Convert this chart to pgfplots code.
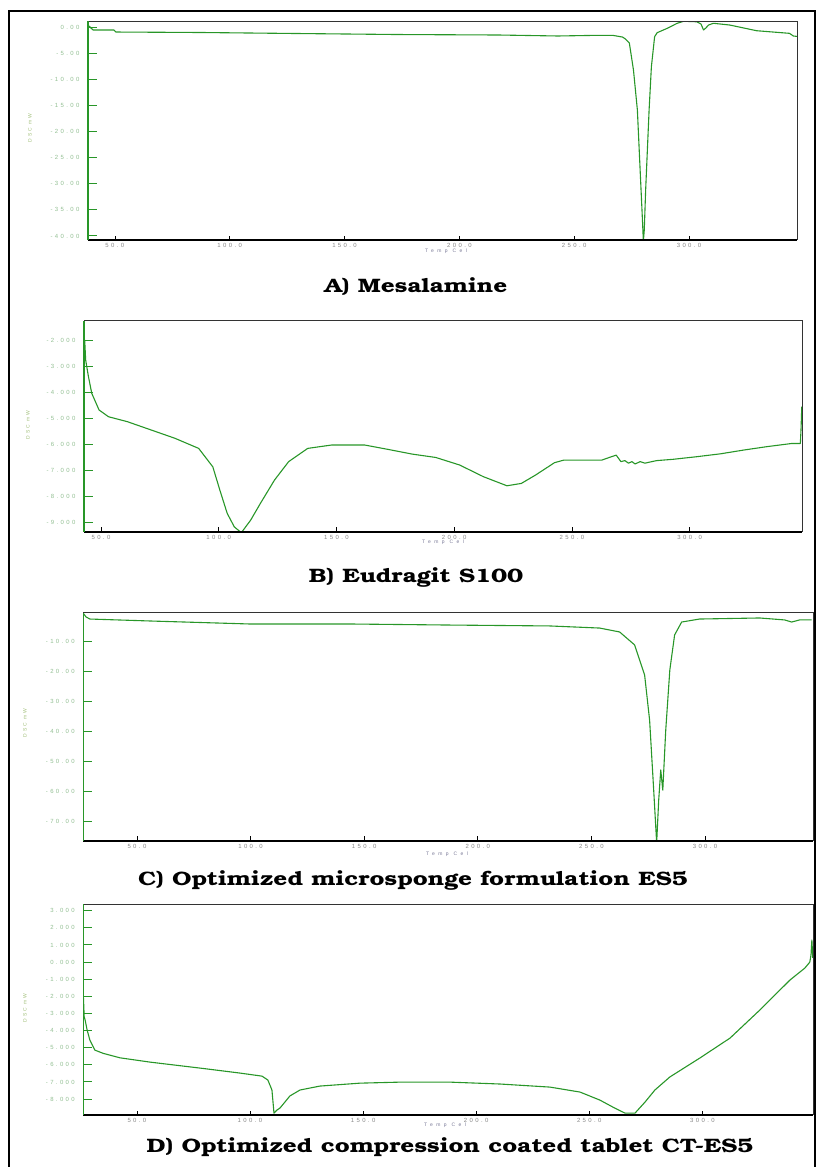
\documentclass[border=0pt]{standalone}
\usepackage{fontspec}
\usepackage{pgfplots}
\pgfplotsset{compat=1.18}
\setmainfont{Liberation Sans}
\newfontfamily\titlefont[FakeStretch=1.25]{texgyrebonum-bold.otf}
\newfontfamily\tickfont[LetterSpace=40]{Liberation Sans}
\newfontfamily\labfont[LetterSpace=70]{Liberation Sans}
\definecolor{curve}{RGB}{40,150,40}
\definecolor{axgreen}{RGB}{40,150,40}
\definecolor{ytl}{RGB}{145,190,145}
\definecolor{xtl}{RGB}{135,135,135}
\definecolor{xlab}{RGB}{120,120,150}
\definecolor{ylab}{RGB}{160,190,120}
\pgfplotsset{dsc/.style={
  scale only axis, anchor=south west,
  axis line style={draw=none}, tick align=inside,
  clip mode=individual,
  xtick={50,100,150,200,250,300},
  xticklabels={50.0,100.0,150.0,200.0,250.0,300.0},
  xtick pos=left, ytick pos=left,
  xtick style={black, line width=0.7bp, /pgfplots/major tick length=4.5bp},
  ytick style={axgreen, line width=1bp, /pgfplots/major tick length=9bp},
  ticklabel style={font=\tickfont\fontsize{6}{7}\selectfont},
  xticklabel style={text=xtl},
  yticklabel style={text=ytl, xshift=-5bp},
}}
\newcommand{\frameit}{%
  \draw[black!80, line width=0.8bp] (rel axis cs:0,1) -- (rel axis cs:1,1) -- (rel axis cs:1,0);
  \draw[black, line width=2.2bp] (rel axis cs:0,0) -- (rel axis cs:1,0);
  \draw[axgreen, line width=1.6bp] (rel axis cs:0,0) -- (rel axis cs:0,1);}
\tikzset{dscline/.style={curve, line width=1.1bp, mark=none, line join=round}}
\begin{document}
\begin{tikzpicture}
\path[use as bounding box] (0,0) rectangle (823bp,-1167bp);
\draw[black, line width=1.5bp] (9bp,-1167bp) -- (9bp,-11bp) -- (815bp,-11bp) -- (815bp,-1167bp);

% ---------- A
\begin{axis}[dsc, at={(88bp,-240bp)}, width=709bp, height=219bp,
  xmin=38.3, xmax=347, ymin=-40.77, ymax=1.15,
  ytick={0,-5,-10,-15,-20,-25,-30,-35,-40},
  yticklabels={0.00,-5.00,-10.00,-15.00,-20.00,-25.00,-30.00,-35.00,-40.00}]
\addplot[dscline] coordinates {(38.8,0.2)(39.6,-0.19)(40.5,-0.57)(49.6,-0.57)(50.4,-0.96)(87.2,-1.05)(130.4,-1.25)(173.7,-1.44)(216.9,-1.53)(242.9,-1.72)(260.2,-1.59)(266.7,-1.59)(271.0,-1.92)(272.3,-2.3)(274.0,-3.07)(275.8,-8.24)(277.5,-15.9)(278.7,-27.4)(279.7,-36.9)(280.1,-41)(280.5,-38.9)(281.1,-31.2)(282.6,-15.9)(283.6,-7.6)(285.0,-1.86)(286.1,-1.09)(290.5,-0.25)(294.8,0.71)(297.7,1.1)(303.4,1.0)(305.2,0.57)(306.3,-0.57)(307.3,-0.19)(308.5,0.38)(310.6,0.71)(317.7,0.38)(329.4,-0.71)(343.7,-1.21)(345.4,-1.72)(347,-1.8)};
\frameit
\end{axis}

% ---------- B
\begin{axis}[dsc, at={(84bp,-531.7bp)}, width=718bp, height=211bp,
  xmin=42.8, xmax=347.7, ymin=-9.36, ymax=-1.23,
  ytick={-2,-3,-4,-5,-6,-7,-8,-9},
  yticklabels={-2.000,-3.000,-4.000,-5.000,-6.000,-7.000,-8.000,-9.000}]
\addplot[dscline] coordinates {(43.1,-1.97)(43.5,-2.74)(44.7,-3.39)(46.1,-4.03)(49.2,-4.67)(53.2,-4.93)(61.2,-5.12)(71.3,-5.44)(81.4,-5.76)(91.5,-6.15)(97.5,-6.86)(100.5,-7.76)(103.6,-8.65)(106.6,-9.17)(109.6,-9.40)(113.6,-8.91)(117.7,-8.27)(123.7,-7.37)(129.7,-6.66)(137.8,-6.15)(147.9,-6.02)(162.0,-6.02)(172.0,-6.19)(182.2,-6.37)(192.2,-6.50)(202.3,-6.79)(212.4,-7.24)(222.4,-7.59)(228.5,-7.50)(234.5,-7.18)(242.6,-6.70)(246.6,-6.60)(262.7,-6.60)(266.8,-6.47)(268.8,-6.41)(270.8,-6.66)(272.5,-6.62)(274.0,-6.72)(275.5,-6.66)(276.8,-6.75)(279.0,-6.66)(281.0,-6.72)(282.9,-6.68)(286.0,-6.62)(293.0,-6.57)(303.0,-6.47)(313.0,-6.36)(323.2,-6.21)(333.0,-6.08)(343.4,-5.96)(347.0,-5.96)(347.3,-5.38)(347.6,-4.54)};
\frameit
\end{axis}

% ---------- C
\begin{axis}[dsc, at={(83.3bp,-840.7bp)}, width=729.7bp, height=228bp,
  xmin=26.4, xmax=347.5, ymin=-76.3, ymax=-0.5,
  ytick={-10,-20,-30,-40,-50,-60,-70},
  yticklabels={-10.00,-20.00,-30.00,-40.00,-50.00,-60.00,-70.00}]
\addplot[dscline] coordinates {(26.3,-0.6)(27.6,-1.9)(29.3,-2.6)(55.7,-3.25)(99.7,-4.25)(143.7,-4.25)(187.7,-4.6)(231.6,-4.9)(253.6,-5.6)(262.4,-6.9)(269.0,-11.2)(273.4,-21.2)(275.6,-36.2)(277.4,-59.5)(278.7,-77)(279.6,-62.8)(280.5,-52.8)(281.4,-59.5)(282.7,-39.5)(284.5,-19.5)(286.6,-7.9)(289.7,-3.6)(297.6,-2.6)(324.0,-2.25)(335.0,-2.9)(338.1,-3.6)(341.6,-2.9)(346.9,-2.9)};
\frameit
\end{axis}

% ---------- D
\begin{axis}[dsc, at={(83.3bp,-1115bp)}, width=729.7bp, height=211bp,
  xmin=26.3, xmax=348.9, ymin=-8.93, ymax=3.39,
  ytick={3,2,1,0,-1,-2,-3,-4,-5,-6,-7,-8},
  yticklabels={3.000,2.000,1.000,0.000,-1.000,-2.000,-3.000,-4.000,-5.000,-6.000,-7.000,-8.000}]
\addplot[dscline] coordinates {(26.3,-1.88)(26.7,-3.19)(27.1,-3.38)(28.0,-3.97)(29.2,-4.55)(31.4,-5.14)(35.1,-5.33)(42.5,-5.59)(55.7,-5.84)(77.9,-6.19)(95.5,-6.48)(105.3,-6.66)(107.9,-6.89)(109.7,-7.47)(110.6,-8.82)(111.9,-8.64)(113.2,-8.53)(115.4,-8.18)(117.6,-7.82)(122.1,-7.47)(130.9,-7.24)(148.6,-7.07)(166.3,-7.01)(188.4,-7.01)(210.5,-7.12)(232.6,-7.30)(245.9,-7.59)(254.7,-8.06)(261.3,-8.53)(265.8,-8.82)(270.2,-8.82)(274.6,-8.18)(279.0,-7.47)(285.6,-6.71)(298.9,-5.60)(312.2,-4.44)(325.4,-2.80)(338.7,-1.05)(345.3,-0.35)(347.5,0.0)(348.0,0.41)(348.4,1.29)(348.8,0.24)};
\frameit
\end{axis}

% labels
\begin{scope}[every node/.style={font=\labfont\fontsize{5}{6}\selectfont}]
\node[text=xlab] at (446bp,-251bp) {Temp Cel};
\node[text=xlab] at (443bp,-542bp) {Temp Cel};
\node[text=xlab] at (447bp,-854bp) {Temp Cel};
\node[text=xlab] at (445bp,-1125bp) {Temp Cel};
\end{scope}
\begin{scope}[every node/.style={font=\tickfont\fontsize{5}{6}\selectfont}]
\node[text=ylab, rotate=90] at (30bp,-128bp) {DSC mW};
\node[text=ylab, rotate=90] at (28bp,-425bp) {DSC mW};
\node[text=ylab, rotate=90] at (25bp,-723bp) {DSC mW};
\node[text=ylab, rotate=90] at (25bp,-1008bp) {DSC mW};
\end{scope}
\begin{scope}[every node/.style={font=\titlefont\fontsize{19.5}{22}\selectfont}]
\node at (416bp,-287bp) {A) Mesalamine};
\node at (416bp,-577bp) {B) Eudragit S100};
\node at (413bp,-880bp) {C) Optimized microsponge formulation ES5};
\node at (450bp,-1147bp) {D) Optimized compression coated tablet CT-ES5};
\end{scope}
\end{tikzpicture}
\end{document}
